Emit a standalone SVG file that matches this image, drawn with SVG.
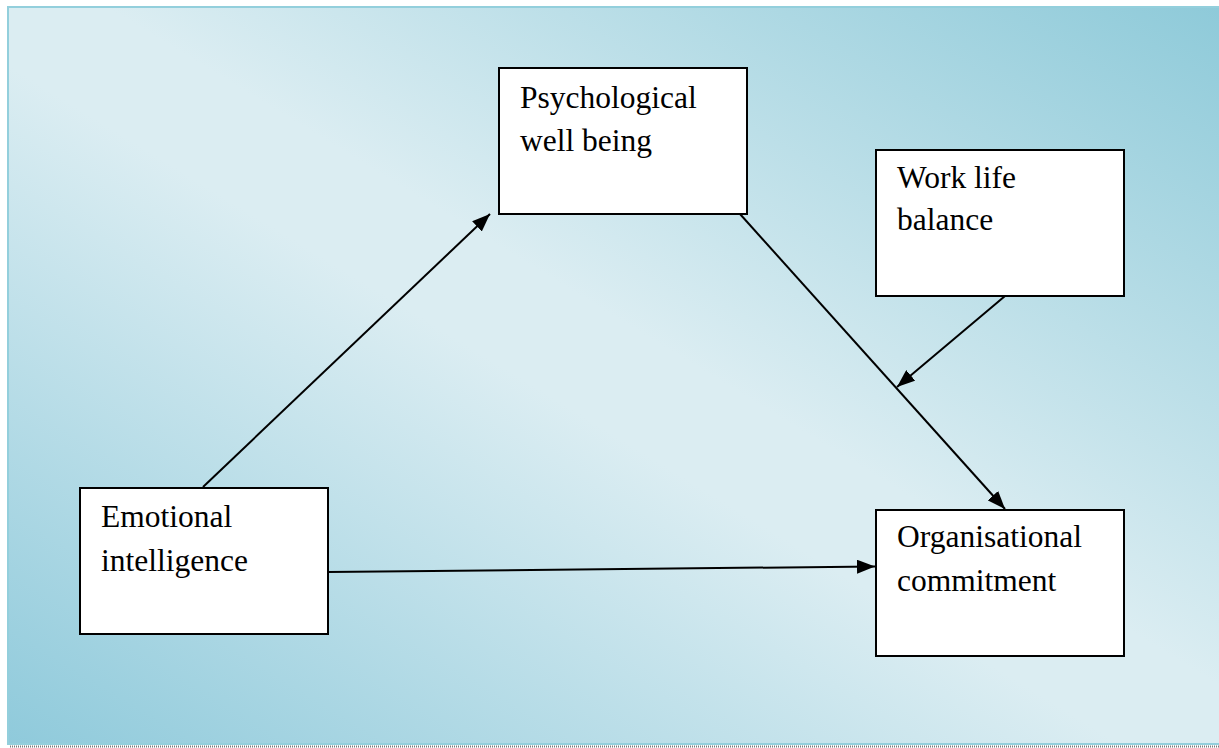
<svg xmlns="http://www.w3.org/2000/svg" width="1219" height="748" viewBox="0 0 1219 748">
<defs>
<linearGradient id="bg" gradientUnits="userSpaceOnUse" x1="285" y1="913" x2="941" y2="-163">
<stop offset="0" stop-color="#8fcadb"/>
<stop offset="0.46" stop-color="#dbedf2"/>
<stop offset="0.54" stop-color="#dbedf2"/>
<stop offset="1" stop-color="#8ecad9"/>
</linearGradient>
<marker id="ah" viewBox="0 0 18 14" refX="18" refY="7" markerWidth="18" markerHeight="14" markerUnits="userSpaceOnUse" orient="auto">
<path d="M0,0 L18,7 L0,14 Z" fill="#000"/>
</marker>
<style>
.box{fill:#fff;stroke:#000;stroke-width:2}
.lbl{font-family:"Liberation Serif","Times New Roman",serif;font-size:31.5px;fill:#000}
.conn{stroke:#000;stroke-width:2;fill:none;marker-end:url(#ah)}
</style>
</defs>
<rect x="0" y="0" width="1219" height="748" fill="#fff"/>
<rect x="8" y="7" width="1220" height="737" fill="url(#bg)" stroke="#93cfdc" stroke-width="2"/>
<line x1="10" y1="746.5" x2="1219" y2="746.5" stroke="#7a7a7a" stroke-width="2" stroke-dasharray="1,1"/>
<g id="connectors">
<line class="conn" x1="203" y1="487" x2="490" y2="214"/>
<line class="conn" x1="740" y1="214" x2="1005" y2="509"/>
<line class="conn" x1="1005" y1="296" x2="897" y2="387"/>
<line class="conn" x1="328" y1="572" x2="875" y2="566.5"/>
</g>
<g id="node-pwb">
<rect class="box" x="499" y="68" width="248" height="146"/>
<text class="lbl" x="520" y="108">Psychological</text>
<text class="lbl" x="520" y="151">well being</text>
</g>
<g id="node-wlb">
<rect class="box" x="876" y="150" width="248" height="146"/>
<text class="lbl" x="897" y="188">Work life</text>
<text class="lbl" x="897" y="230">balance</text>
</g>
<g id="node-ei">
<rect class="box" x="80" y="488" width="248" height="146"/>
<text class="lbl" x="101" y="527">Emotional</text>
<text class="lbl" x="101" y="571">intelligence</text>
</g>
<g id="node-oc">
<rect class="box" x="876" y="510" width="248" height="146"/>
<text class="lbl" x="897" y="547">Organisational</text>
<text class="lbl" x="897" y="591">commitment</text>
</g>
</svg>
